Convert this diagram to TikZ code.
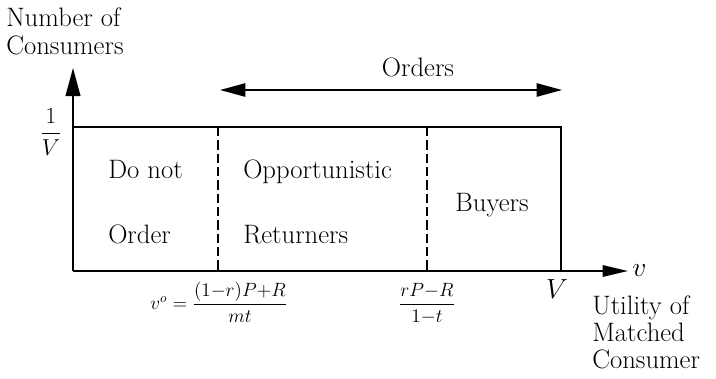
\documentclass[tikz,border=0pt]{standalone}
\usepackage{amsmath}
\usetikzlibrary{positioning, arrows.meta}
\begin{document}
\begin{tikzpicture}[
        x=0.75pt, y=-0.75pt,
        txt/.style={inner sep=0pt, font=\fontsize{20}{24}\selectfont},
        mth/.style={inner sep=0pt, font=\fontsize{14.4}{17}\selectfont},
        frac/.style={inner sep=0pt, font=\fontsize{17.28}{20}\selectfont},
        yaxis/.style={line width=1.4pt, -{Triangle[length=21pt, width=11pt]}},
        xaxis/.style={line width=1.4pt, -{Triangle[length=19pt, width=8.5pt]}},
        frame/.style={line width=1.2pt},
        split/.style={line width=1.1pt, dash pattern=on 7pt off 3pt},
        span/.style={line width=1.1pt, {Triangle[length=19pt, width=10pt]}-{Triangle[length=19pt, width=10pt]}}
    ]
    \useasboundingbox (0,0) rectangle (716,378);

    % Achsen
    \coordinate (orig) at (73,271);
    \coordinate (ytop) at (73,68);
    \coordinate (xend) at (628,271);
    \draw[yaxis] (orig) -- (ytop);
    \draw[xaxis] (orig) -- (xend);

    % Rahmen
    \coordinate (boxtl) at (73,127);
    \coordinate (boxtr) at (561,127);
    \coordinate (boxbr) at (561,271);
    \draw[frame] (boxtl) -- (boxtr) -- (boxbr);

    % Grenzen
    \coordinate (cut1t) at (218,127);
    \coordinate (cut1b) at (218,271);
    \coordinate (cut2t) at (427,127);
    \coordinate (cut2b) at (427,271);
    \draw[split] (cut1t) -- (cut1b);
    \draw[split] (cut2t) -- (cut2b);

    % Orders
    \coordinate (ordl) at (220,90);
    \coordinate (ordr) at (562,90);
    \draw[span] (ordl) -- (ordr);
    \node[txt, anchor=base] (orders) at (418,76) {Orders};

    % Achsenbeschriftung
    \node[txt, anchor=base west] (ylab1) at (6,27) {Number of};
    \node[txt, anchor=base west] (ylab2) at (6,55) {Consumers};
    \node[frac] (yval) at (51,132) {$\dfrac{1}{V}$};
    \node[txt, anchor=west] (xvar) at (632,271) {$v$};
    \node[txt, anchor=base] (xmax) at (557,298) {$V$};
    \node[txt, anchor=base west] (xlab1) at (592,314) {Utility of};
    \node[txt, anchor=base west] (xlab2) at (592,341) {Matched};
    \node[txt, anchor=base west] (xlab3) at (592,368) {Consumer};

    % Schwellen
    \node[mth, anchor=base west] (thr1) at (150,309) {$v^o = \dfrac{(1{-}r)P{+}R}{mt}$};
    \node[mth, anchor=base] (thr2) at (427,309) {$\dfrac{rP{-}R}{1{-}t}$};

    % Bereiche
    \node[txt, anchor=base west] (reg1a) at (108,178) {Do not};
    \node[txt, anchor=base west] (reg1b) at (108,243) {Order};
    \node[txt, anchor=base west] (reg2a) at (243,178) {Opportunistic};
    \node[txt, anchor=base west] (reg2b) at (243,243) {Returners};
    \node[txt, anchor=base] (reg3) at (492,211) {Buyers};
\end{tikzpicture}
\end{document}
